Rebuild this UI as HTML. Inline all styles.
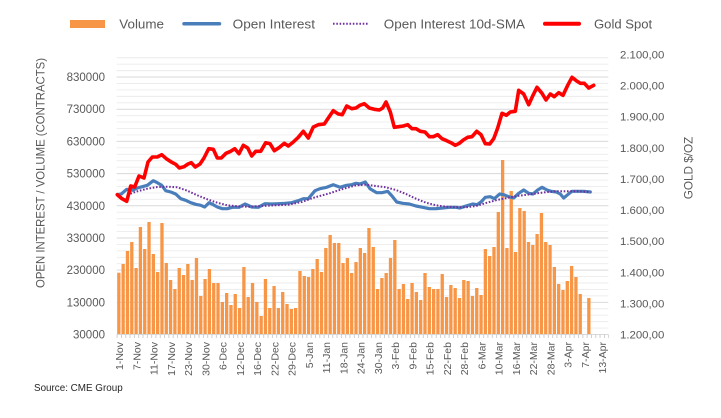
<!DOCTYPE html>
<html><head><meta charset="utf-8"><style>
html,body{margin:0;padding:0;background:#fff;}
svg{display:block;}
text{font-family:"Liberation Sans",sans-serif;}
</style></head><body>
<svg width="721" height="418" viewBox="0 0 721 418" xmlns="http://www.w3.org/2000/svg">
<defs>
<pattern id="tk" x="116.7" y="0" width="4.312" height="10" patternUnits="userSpaceOnUse"><rect x="0" y="0" width="0.8" height="10" fill="#c4c4c4"/></pattern>
</defs>
<rect width="721" height="418" fill="#fff"/>
<!-- legend -->
<rect x="70" y="20" width="35" height="8" fill="#F79646"/>
<text x="119.3" y="28.3" font-size="13" fill="#595959" textLength="44.7" lengthAdjust="spacingAndGlyphs">Volume</text>
<line x1="184" y1="23.8" x2="219.5" y2="23.8" stroke="#4A7EBB" stroke-width="3.5" stroke-linecap="round"/>
<text x="232.7" y="28.3" font-size="13" fill="#595959" textLength="82.3" lengthAdjust="spacingAndGlyphs">Open Interest</text>
<line x1="333" y1="23.8" x2="368.3" y2="23.8" stroke="#7030A0" stroke-width="2" stroke-dasharray="1.6 1.7"/>
<text x="383.8" y="28.3" font-size="13" fill="#595959" textLength="141.2" lengthAdjust="spacingAndGlyphs">Open Interest 10d-SMA</text>
<line x1="545" y1="23.8" x2="579" y2="23.8" stroke="#FF0000" stroke-width="4" stroke-linecap="round"/>
<text x="594" y="28.3" font-size="13" fill="#595959" textLength="58.2" lengthAdjust="spacingAndGlyphs">Gold Spot</text>

<!-- minor gridlines -->
<path fill="none" stroke="#ececec" stroke-width="0.9" d="M116.7 328.06H608.3M116.7 321.63H608.3M116.7 315.19H608.3M116.7 308.76H608.3M116.7 295.88H608.3M116.7 289.45H608.3M116.7 283.01H608.3M116.7 276.58H608.3M116.7 263.70H608.3M116.7 257.27H608.3M116.7 250.83H608.3M116.7 244.40H608.3M116.7 231.52H608.3M116.7 225.09H608.3M116.7 218.65H608.3M116.7 212.22H608.3M116.7 199.34H608.3M116.7 192.91H608.3M116.7 186.47H608.3M116.7 180.04H608.3M116.7 167.16H608.3M116.7 160.73H608.3M116.7 154.29H608.3M116.7 147.86H608.3M116.7 134.98H608.3M116.7 128.55H608.3M116.7 122.11H608.3M116.7 115.68H608.3M116.7 102.80H608.3M116.7 96.37H608.3M116.7 89.93H608.3M116.7 83.50H608.3M116.7 70.62H608.3M116.7 64.19H608.3M116.7 57.75H608.3"/>
<!-- major gridlines -->
<path fill="none" stroke="#d9d9d9" stroke-width="1" d="M116.7 302.32H608.3M116.7 270.14H608.3M116.7 237.96H608.3M116.7 205.78H608.3M116.7 173.60H608.3M116.7 141.42H608.3M116.7 109.24H608.3M116.7 77.06H608.3"/>

<!-- bars -->
<g fill="#F79646">
<rect x="117.2" y="272.7" width="3.3" height="61.8"/>
<rect x="121.51" y="264" width="3.3" height="70.5"/>
<rect x="125.82" y="251" width="3.3" height="83.5"/>
<rect x="130.14" y="242" width="3.3" height="92.5"/>
<rect x="134.45" y="268" width="3.3" height="66.5"/>
<rect x="138.76" y="227" width="3.3" height="107.5"/>
<rect x="143.07" y="249" width="3.3" height="85.5"/>
<rect x="147.38" y="222" width="3.3" height="112.5"/>
<rect x="151.70" y="254" width="3.3" height="80.5"/>
<rect x="156.01" y="272" width="3.3" height="62.5"/>
<rect x="160.32" y="223" width="3.3" height="111.5"/>
<rect x="164.63" y="263" width="3.3" height="71.5"/>
<rect x="168.94" y="280" width="3.3" height="54.5"/>
<rect x="173.26" y="289" width="3.3" height="45.5"/>
<rect x="177.57" y="268" width="3.3" height="66.5"/>
<rect x="181.88" y="275" width="3.3" height="59.5"/>
<rect x="186.19" y="264" width="3.3" height="70.5"/>
<rect x="190.50" y="280" width="3.3" height="54.5"/>
<rect x="194.82" y="258" width="3.3" height="76.5"/>
<rect x="199.13" y="296" width="3.3" height="38.5"/>
<rect x="203.44" y="279" width="3.3" height="55.5"/>
<rect x="207.75" y="269" width="3.3" height="65.5"/>
<rect x="212.06" y="283" width="3.3" height="51.5"/>
<rect x="216.38" y="283" width="3.3" height="51.5"/>
<rect x="220.69" y="302" width="3.3" height="32.5"/>
<rect x="225.00" y="293" width="3.3" height="41.5"/>
<rect x="229.31" y="305" width="3.3" height="29.5"/>
<rect x="233.62" y="294" width="3.3" height="40.5"/>
<rect x="237.94" y="308" width="3.3" height="26.5"/>
<rect x="242.25" y="267" width="3.3" height="67.5"/>
<rect x="246.56" y="297" width="3.3" height="37.5"/>
<rect x="250.87" y="283" width="3.3" height="51.5"/>
<rect x="255.18" y="302" width="3.3" height="32.5"/>
<rect x="259.50" y="316" width="3.3" height="18.5"/>
<rect x="263.81" y="279" width="3.3" height="55.5"/>
<rect x="268.12" y="308" width="3.3" height="26.5"/>
<rect x="272.43" y="286" width="3.3" height="48.5"/>
<rect x="276.74" y="308" width="3.3" height="26.5"/>
<rect x="281.06" y="292" width="3.3" height="42.5"/>
<rect x="285.37" y="304" width="3.3" height="30.5"/>
<rect x="289.68" y="309" width="3.3" height="25.5"/>
<rect x="293.99" y="308" width="3.3" height="26.5"/>
<rect x="298.30" y="271" width="3.3" height="63.5"/>
<rect x="302.62" y="276" width="3.3" height="58.5"/>
<rect x="306.93" y="277" width="3.3" height="57.5"/>
<rect x="311.24" y="269" width="3.3" height="65.5"/>
<rect x="315.55" y="259" width="3.3" height="75.5"/>
<rect x="319.86" y="272" width="3.3" height="62.5"/>
<rect x="324.18" y="248" width="3.3" height="86.5"/>
<rect x="328.49" y="235" width="3.3" height="99.5"/>
<rect x="332.80" y="243" width="3.3" height="91.5"/>
<rect x="337.11" y="243" width="3.3" height="91.5"/>
<rect x="341.42" y="263" width="3.3" height="71.5"/>
<rect x="345.74" y="258" width="3.3" height="76.5"/>
<rect x="350.05" y="273" width="3.3" height="61.5"/>
<rect x="354.36" y="262" width="3.3" height="72.5"/>
<rect x="358.67" y="248" width="3.3" height="86.5"/>
<rect x="362.98" y="253" width="3.3" height="81.5"/>
<rect x="367.30" y="228" width="3.3" height="106.5"/>
<rect x="371.61" y="247" width="3.3" height="87.5"/>
<rect x="375.92" y="289" width="3.3" height="45.5"/>
<rect x="380.23" y="278" width="3.3" height="56.5"/>
<rect x="384.54" y="273" width="3.3" height="61.5"/>
<rect x="388.86" y="258" width="3.3" height="76.5"/>
<rect x="393.17" y="240" width="3.3" height="94.5"/>
<rect x="397.48" y="289" width="3.3" height="45.5"/>
<rect x="401.79" y="284" width="3.3" height="50.5"/>
<rect x="406.10" y="299" width="3.3" height="35.5"/>
<rect x="410.42" y="283" width="3.3" height="51.5"/>
<rect x="414.73" y="292" width="3.3" height="42.5"/>
<rect x="419.04" y="300" width="3.3" height="34.5"/>
<rect x="423.35" y="273" width="3.3" height="61.5"/>
<rect x="427.66" y="287" width="3.3" height="47.5"/>
<rect x="431.98" y="289" width="3.3" height="45.5"/>
<rect x="436.29" y="289" width="3.3" height="45.5"/>
<rect x="440.60" y="274" width="3.3" height="60.5"/>
<rect x="444.91" y="297" width="3.3" height="37.5"/>
<rect x="449.22" y="285" width="3.3" height="49.5"/>
<rect x="453.54" y="288" width="3.3" height="46.5"/>
<rect x="457.85" y="298" width="3.3" height="36.5"/>
<rect x="462.16" y="280" width="3.3" height="54.5"/>
<rect x="466.47" y="281" width="3.3" height="53.5"/>
<rect x="470.78" y="296" width="3.3" height="38.5"/>
<rect x="475.10" y="288" width="3.3" height="46.5"/>
<rect x="479.41" y="295" width="3.3" height="39.5"/>
<rect x="483.72" y="249" width="3.3" height="85.5"/>
<rect x="488.03" y="256" width="3.3" height="78.5"/>
<rect x="492.34" y="247" width="3.3" height="87.5"/>
<rect x="496.66" y="212" width="3.3" height="122.5"/>
<rect x="500.97" y="160" width="3.3" height="174.5"/>
<rect x="505.28" y="248" width="3.3" height="86.5"/>
<rect x="509.59" y="191" width="3.3" height="143.5"/>
<rect x="513.90" y="252" width="3.3" height="82.5"/>
<rect x="518.22" y="208" width="3.3" height="126.5"/>
<rect x="522.53" y="211" width="3.3" height="123.5"/>
<rect x="526.84" y="242" width="3.3" height="92.5"/>
<rect x="531.15" y="245" width="3.3" height="89.5"/>
<rect x="535.46" y="234" width="3.3" height="100.5"/>
<rect x="539.78" y="213" width="3.3" height="121.5"/>
<rect x="544.09" y="242" width="3.3" height="92.5"/>
<rect x="548.40" y="245" width="3.3" height="89.5"/>
<rect x="552.71" y="267" width="3.3" height="67.5"/>
<rect x="557.02" y="284" width="3.3" height="50.5"/>
<rect x="561.34" y="290" width="3.3" height="44.5"/>
<rect x="565.65" y="281" width="3.3" height="53.5"/>
<rect x="569.96" y="266" width="3.3" height="68.5"/>
<rect x="574.27" y="277" width="3.3" height="57.5"/>
<rect x="578.58" y="294" width="3.3" height="40.5"/>
<rect x="587.21" y="298" width="3.3" height="36.5"/>
</g>

<!-- axis line + ticks -->
<line x1="116.7" y1="334.5" x2="608.3" y2="334.5" stroke="#d9d9d9" stroke-width="1"/>
<rect x="116.3" y="334.5" width="492.8" height="3.5" fill="url(#tk)"/>

<!-- open interest -->
<polyline fill="none" stroke="#4A7EBB" stroke-width="3.2" stroke-linejoin="round" stroke-linecap="round" points="117.3,194.7 121.3,194 126.7,189.3 132.3,190.3 137.3,188 142.3,186.7 147.3,185.3 153.3,180.7 157.3,182.7 161.7,185.3 165.7,190.7 170.7,192 175.7,194 180.7,198.7 185.7,200.3 190.7,202.7 195.7,204.3 200.7,205.3 204.7,207 209,202.7 213.3,204.7 217.3,207 222.3,208.7 227.3,208.7 232.3,207.3 239,207.3 245,204 251.7,207 258.3,207.3 265,203.7 271.7,204 278.3,203.7 285,203.3 291.7,202.7 298.3,200.7 303.3,198.7 308.3,198.7 315,190.7 320,188.7 326.7,187.3 333.3,184.7 340,187.3 346.7,185.3 351.7,184.7 356,183.3 360,184 365.3,182 370,188.7 376.7,192.7 382,192.7 387.7,191.3 392,196 396.7,202 402.7,203.3 409.3,204 416,206 422.7,207.3 429.3,208.7 436,208.7 442.7,208 449.3,207.3 456,207.3 460,208 466,206 472.7,204 477,204.7 481,202 485.3,197.3 490.3,196.7 494.3,198.7 499.7,194 503.7,194.7 508.7,196.7 513.7,198 518.7,193.3 523.7,190 528.7,193.3 533,194 537.7,190 542,187.3 547,190 551,191.3 556.3,192 560.3,194 563.7,198 567.7,194.7 572,191.3 577,191.3 583.7,191.3 590.3,192"/>
<!-- SMA -->
<polyline fill="none" stroke="#7030A0" stroke-width="2" stroke-dasharray="1.6 1.7" points="127.3,194.7 137.3,191.3 147.3,188.7 157.3,187 167.3,186.7 177.3,187.3 187.3,190.7 197.3,195.3 207.3,199.3 217.3,202.7 227.3,205.3 238,206.3 248.3,206.7 261.7,206 275,205.3 288.3,204.7 301.7,202 315,197.3 328.3,193.7 341.7,189.3 356,185.3 366,184.7 376,186 386,187.3 396,190 406,194 416,198.7 426,202.7 436,205.3 446,206.7 456,207.3 466,207.3 476,206 487,202.7 497,200 507,198 517,196 527,194.7 537,193.3 547,192 557,191.3 567,191.3 577,191.3 590.3,192"/>
<!-- gold -->
<polyline fill="none" stroke="#FF0000" stroke-width="3.6" stroke-linejoin="round" stroke-linecap="round" points="117.3,194.7 122,198.7 126.7,201.3 130.7,186 134.7,187 139,176 144,178 148,162 152.3,157 157.3,157 161.7,154.7 166.3,158.7 171.3,162 175.7,164.3 179.3,168 184,166.7 188,164 191.3,162.7 195.3,167 200,164 204,158 208.7,148.7 213.3,149.3 217.3,158 221.3,158 226,153.3 230.7,151.3 234.7,148.7 239,153.7 243.3,145.3 247.7,148 251.7,156 255.7,151.3 260.7,151.3 265.7,142.7 270,143.7 274.3,150.7 279,147.7 284.3,143.3 288.3,146 293.3,142 298.3,137.3 303.3,131.3 308.3,138 313.3,127 318.3,124.7 324.3,124 328.3,118 333.3,110.7 338.3,114 342.3,114.7 346.7,106 351.7,108.7 356,108 360,105.3 364.3,103.7 369.3,108 374.3,109.3 379.3,110 382.7,108 386,102 390.3,112 394.3,127.3 398.7,126.7 403.3,126 407.7,124.7 412,128.7 416,128.7 420.3,131.3 425,132 429.3,136.7 433.3,136.7 437.7,134.7 442,138.7 446.7,140.7 451,142.7 455.3,145.3 459.3,143.3 463.3,140 467.7,137.3 472,136.7 476.7,131.3 481,134.7 485.3,143.7 489.7,144 493.7,138.7 497.7,128 502,113.3 506.3,115.3 510.3,112 515.3,111.3 518.7,90.3 523.7,94 528.7,104.7 533,95.3 537,87.3 542,93.3 546,100 550.3,94 554.3,96.7 558.7,92.7 563,95.3 567.7,85.3 572,77.3 576.3,80.7 580.3,83.3 584.3,83.3 588.7,88 593.7,85.3"/>

<!-- left axis labels -->
<g font-size="11.5" fill="#595959" text-anchor="end">
<text x="105" y="338.5">30000</text>
<text x="105" y="306.3">130000</text>
<text x="105" y="274.1">230000</text>
<text x="105" y="242">330000</text>
<text x="105" y="209.8">430000</text>
<text x="105" y="177.6">530000</text>
<text x="105" y="145.4">630000</text>
<text x="105" y="113.2">730000</text>
<text x="105" y="81.1">830000</text>
</g>
<!-- right axis labels -->
<g font-size="11.4" fill="#595959">
<text x="620" y="338.5">1.200,00</text>
<text x="620" y="307.4">1.300,00</text>
<text x="620" y="276.3">1.400,00</text>
<text x="620" y="245.2">1.500,00</text>
<text x="620" y="214.1">1.600,00</text>
<text x="620" y="183">1.700,00</text>
<text x="620" y="151.8">1.800,00</text>
<text x="620" y="120.7">1.900,00</text>
<text x="620" y="89.6">2.000,00</text>
<text x="620" y="58.5">2.100,00</text>
</g>
<!-- axis titles -->
<text transform="translate(44.5,173) rotate(-90)" font-size="12" fill="#595959" text-anchor="middle" textLength="230" lengthAdjust="spacingAndGlyphs">OPEN INTEREST / VOLUME (CONTRACTS)</text>
<text transform="translate(692.5,168) rotate(-90)" font-size="12" fill="#595959" text-anchor="middle" textLength="62.6" lengthAdjust="spacingAndGlyphs">GOLD $/OZ</text>

<!-- x labels -->
<g font-size="10.5" fill="#595959" text-anchor="end">
<text transform="translate(123.16,342) rotate(-90)">1-Nov</text>
<text transform="translate(140.41,342) rotate(-90)">7-Nov</text>
<text transform="translate(157.66,342) rotate(-90)">11-Nov</text>
<text transform="translate(174.90,342) rotate(-90)">17-Nov</text>
<text transform="translate(192.15,342) rotate(-90)">23-Nov</text>
<text transform="translate(209.40,342) rotate(-90)">30-Nov</text>
<text transform="translate(226.65,342) rotate(-90)">6-Dec</text>
<text transform="translate(243.90,342) rotate(-90)">12-Dec</text>
<text transform="translate(261.14,342) rotate(-90)">16-Dec</text>
<text transform="translate(278.39,342) rotate(-90)">22-Dec</text>
<text transform="translate(295.64,342) rotate(-90)">29-Dec</text>
<text transform="translate(312.89,342) rotate(-90)">5-Jan</text>
<text transform="translate(330.14,342) rotate(-90)">11-Jan</text>
<text transform="translate(347.38,342) rotate(-90)">18-Jan</text>
<text transform="translate(364.63,342) rotate(-90)">24-Jan</text>
<text transform="translate(381.88,342) rotate(-90)">30-Jan</text>
<text transform="translate(399.13,342) rotate(-90)">3-Feb</text>
<text transform="translate(416.38,342) rotate(-90)">9-Feb</text>
<text transform="translate(433.62,342) rotate(-90)">15-Feb</text>
<text transform="translate(450.87,342) rotate(-90)">22-Feb</text>
<text transform="translate(468.12,342) rotate(-90)">28-Feb</text>
<text transform="translate(485.37,342) rotate(-90)">6-Mar</text>
<text transform="translate(502.62,342) rotate(-90)">10-Mar</text>
<text transform="translate(519.86,342) rotate(-90)">16-Mar</text>
<text transform="translate(537.11,342) rotate(-90)">22-Mar</text>
<text transform="translate(554.36,342) rotate(-90)">28-Mar</text>
<text transform="translate(571.61,342) rotate(-90)">3-Apr</text>
<text transform="translate(588.86,342) rotate(-90)">7-Apr</text>
<text transform="translate(606.10,342) rotate(-90)">13-Apr</text>
</g>

<text x="34" y="390.8" font-size="10.3" fill="#262626" textLength="88.7" lengthAdjust="spacingAndGlyphs">Source: CME Group</text>
</svg>
</body></html>
